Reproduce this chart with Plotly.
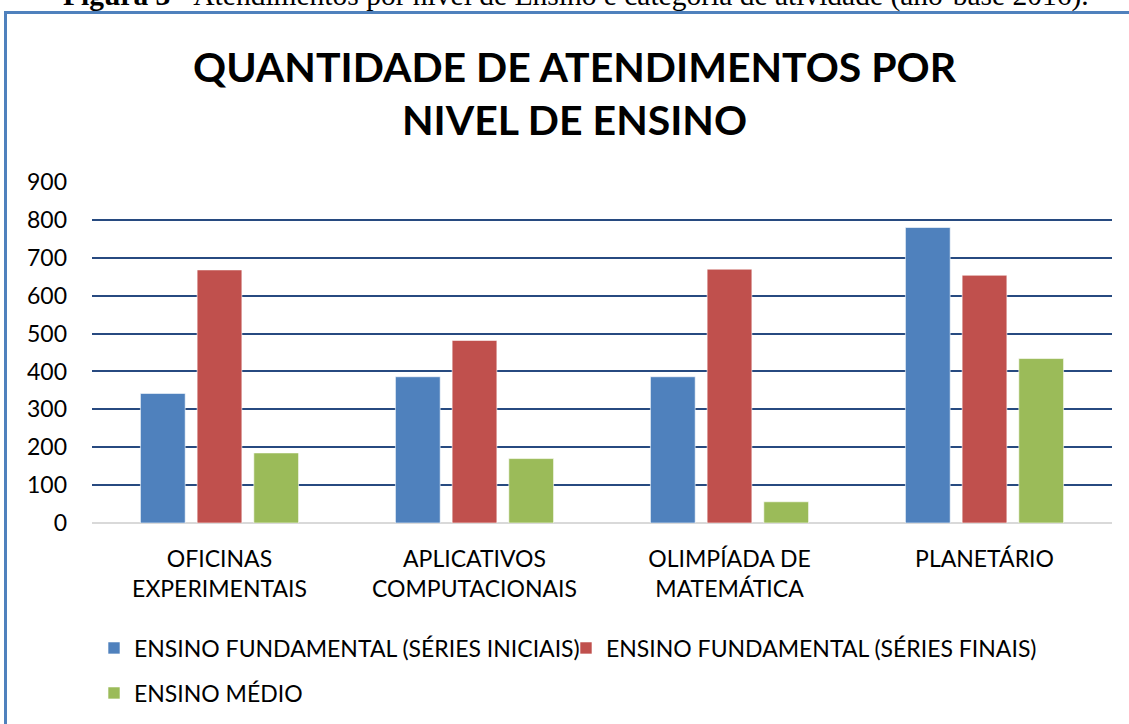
import plotly.graph_objects as go

categories = ["OFICINAS<br>EXPERIMENTAIS", "APLICATIVOS<br>COMPUTACIONAIS", "OLIMPÍADA DE<br>MATEMÁTICA", "PLANETÁRIO"]
series_names = ["ENSINO FUNDAMENTAL (SÉRIES INICIAIS)", "ENSINO FUNDAMENTAL (SÉRIES FINAIS)", "ENSINO MÉDIO"]
iniciais = [342, 386, 386, 780]
finais = [668, 482, 670, 654]
medio = [185, 170, 56, 434]
colors = ["#4F81BD", "#C0504D", "#9BBB59"]
y_ticks = [0, 100, 200, 300, 400, 500, 600, 700, 800, 900]

W, H = 1129, 724
L, R, T, B = 92, 17, 182, 201
PW, PH = W - L - R, H - T - B

def px(x):
    return (x - L) / PW

def py(y):
    return 1 - (y - T) / PH

FONT = "Lato"
FS = 23

fig = go.Figure()
for name, vals, col, lg in zip(series_names, [iniciais, finais, medio], colors, ["legend", "legend", "legend2"]):
    fig.add_trace(go.Bar(
        x=categories, y=vals, name=name,
        marker=dict(color=col, line=dict(color="rgba(255,255,255,0.6)", width=1)),
        legend=lg,
    ))

fig.update_layout(
    width=W, height=H,
    margin=dict(l=L, r=R, t=T, b=B, pad=0, autoexpand=False),
    paper_bgcolor="white", plot_bgcolor="white",
    barmode="group", bargap=0.333, bargroupgap=0.21,
    font=dict(family=FONT, size=FS, color="black"),
    legend=dict(orientation="h", x=px(94), xanchor="left", y=py(648), yanchor="middle",
                itemwidth=30, font=dict(family=FONT, size=FS, color="black"),
                entrywidth=427, bgcolor="rgba(0,0,0,0)"),
    legend2=dict(orientation="h", x=px(94), xanchor="left", y=py(693), yanchor="middle",
                 itemwidth=30, font=dict(family=FONT, size=FS, color="black"),
                 bgcolor="rgba(0,0,0,0)"),
    showlegend=True,
)

fig.update_yaxes(
    range=[0, 900], tickvals=y_ticks, ticktext=[str(v) for v in y_ticks],
    showgrid=True, gridcolor="#274A80", gridwidth=2,
    zeroline=True, zerolinecolor="#D9D9D9", zerolinewidth=2,
    showline=False, ticks="", ticklabelstandoff=24,
    tickfont=dict(family=FONT, size=FS, color="black"),
)
fig.update_xaxes(
    showgrid=False, showline=False, ticks="", ticklabelstandoff=20,
    tickfont=dict(family=FONT, size=FS, color="black"),
)

# Title
fig.add_annotation(
    text="QUANTIDADE DE ATENDIMENTOS POR<br>NIVEL DE ENSINO",
    xref="paper", yref="paper", x=px(575), y=py(93), xanchor="center", yanchor="middle",
    showarrow=False, font=dict(family=FONT, size=41, color="black", weight="bold"),
)

# Caption (partially cut at top of page, as in the source)
fig.add_annotation(
    text="<b>Figura 3</b> - Atendimentos por nível de Ensino e categoria de atividade (ano-base 2016).",
    xref="paper", yref="paper", x=px(576), y=py(14), xanchor="center", yanchor="bottom",
    showarrow=False, font=dict(family="Liberation Serif", size=29.5, color="black"),
)

# Chart border
fig.add_shape(
    type="rect", xref="paper", yref="paper",
    x0=px(5.5), x1=px(1145), y0=py(740), y1=py(12.5),
    line=dict(color="#4F81BD", width=3), fillcolor="rgba(0,0,0,0)",
)

fig.write_html("out.html", config={"displayModeBar": False},
               post_script="document.body.style.margin='0';document.body.style.overflow='hidden';")
